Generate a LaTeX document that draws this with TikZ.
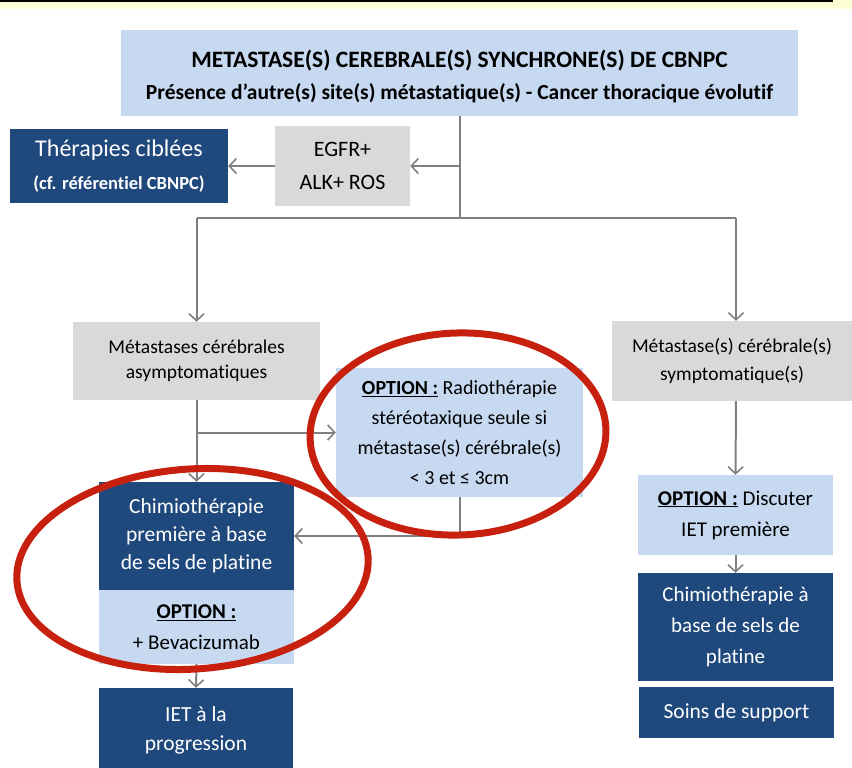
\documentclass[tikz,border=0pt]{standalone}
\usepackage{fontspec}
\setmainfont{Carlito}[Ligatures=NoCommon]
\usetikzlibrary{arrows.meta}
\definecolor{dblue}{HTML}{1F497D}
\definecolor{lblue}{HTML}{C6D9F1}
\definecolor{lgrey}{HTML}{D9D9D9}
\definecolor{connc}{HTML}{808080}
\definecolor{ored}{HTML}{C8200E}
\definecolor{band}{HTML}{FFFFD6}
\newcommand{\fs}[2]{\fontsize{#1}{#2}\selectfont}
\newcommand{\opt}{\underline{\textbf{OPTION :}}}
\tikzset{
 box/.style={inner sep=0pt, align=center, text=black},
 darkbox/.style={box, fill=dblue, text=white},
 lightbox/.style={box, fill=lblue},
 greybox/.style={box, fill=lgrey},
 conn/.style={draw=connc, line width=2pt, -{Straight Barb[length=7pt,width=15pt,line width=1.6pt]}},
 plain/.style={draw=connc, line width=2pt},
 ring/.style={draw=ored, line width=7pt},
}
\begin{document}
\begin{tikzpicture}[x=1pt,y=-1pt]
\useasboundingbox (0,0) rectangle (852,768);
\fill[band] (0,0) rectangle (852,9);
\fill[black] (0,0) rectangle (833,2.5);

\node[lightbox, minimum width=677pt, minimum height=86pt] (top) at (459.5,73) {};
\node[box, font=\fs{21.5}{32}\bfseries] (toptext) at (459.5,76)
 {{\fs{23.5}{32}METASTASE(S) CEREBRALE(S) SYNCHRONE(S) DE CBNPC}\\Présence d’autre(s) site(s) métastatique(s) - Cancer thoracique évolutif};
\node[darkbox, minimum width=218pt, minimum height=74pt, font=\fs{18.5}{33}] (ther) at (119,166)
 {{\fs{24}{33}Thérapies ciblées}\\\textbf{(cf. référentiel CBNPC)}};
\node[greybox, minimum width=135pt, minimum height=80pt, font=\fs{22}{33}] (egfr) at (342.5,166) {EGFR+\\ALK+ ROS};

\node[greybox, minimum width=247pt, minimum height=78pt, font=\fs{19.5}{25}] (asym) at (196.5,361) {Métastases cérébrales\\asymptomatiques};
\node[greybox, minimum width=240pt, minimum height=80pt, font=\fs{19.5}{28}] (symp) at (732,361) {Métastase(s) cérébrale(s)\\symptomatique(s)};
\node[lightbox, minimum width=247pt, minimum height=129pt, font=\fs{20}{30}] (radio) at (459.5,432.5)
 {\opt{} Radiothérapie\\stéréotaxique seule si\\métastase(s) cérébrale(s)\\< 3 et ≤ 3cm};

\node[darkbox, minimum width=195pt, minimum height=108pt, font=\fs{21.5}{28}] (chimio) at (196.5,536)
 {Chimiothérapie\\première à base\\de sels de platine};
\node[lightbox, minimum width=195pt, minimum height=74pt, font=\fs{21}{31}] (beva) at (196.5,627) {\opt\\+ Bevacizumab};
\node[darkbox, minimum width=194pt, minimum height=84pt, font=\fs{21.5}{29}] (iet) at (196,730) {IET à la\\progression};

\node[lightbox, minimum width=195pt, minimum height=80pt, font=\fs{21}{31}] (disc) at (735.5,515) {\opt{} Discuter\\IET première};
\node[darkbox, minimum width=195pt, minimum height=108pt, font=\fs{21}{31}] (chb) at (735.5,627) {Chimiothérapie à\\base de sels de\\platine};
\node[darkbox, minimum width=195pt, minimum height=51pt, font=\fs{21.5}{31}] (soins) at (736.5,712.5) {Soins de support};

\coordinate (hb) at (459.5,218);
\coordinate (hl) at (196.5,218);
\coordinate (hr) at (736,218);

\draw[plain] (top.south) -- (hb);
\draw[conn] (top.south |- egfr.east) -- (egfr.east);
\draw[conn] (egfr.west) -- (ther.east);
\draw[plain] (hl) -- (hr);
\draw[conn] (hl) -- (asym.north);
\draw[conn] (hr) -- (hr |- symp.north);
\draw[conn] (hr |- symp.south) -- (disc.north);
\draw[conn] (disc.south) -- (chb.north);
\draw[conn] (asym.south) -- (chimio.north);
\draw[conn] (asym.south |- radio.west) -- (radio.west);
\draw[conn] (radio.south) -- (radio.south |- chimio.east) -- (chimio.east);
\draw[conn] (beva.south) -- (iet.north);

\draw[ring, rotate around={2:(458,434)}] (458,434) ellipse [x radius=148pt, y radius=101pt];
\draw[ring, rotate around={4:(192.5,569)}] (192.5,569) ellipse [x radius=176pt, y radius=100pt];
\end{tikzpicture}
\end{document}
